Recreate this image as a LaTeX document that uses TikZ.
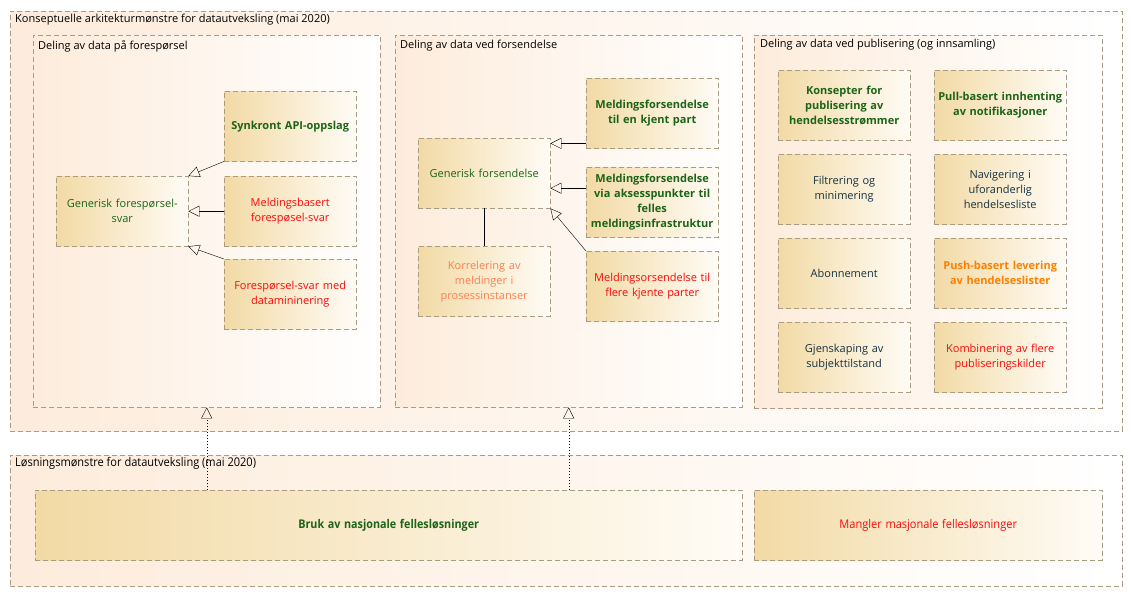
\documentclass[tikz,border=0pt]{standalone}
\usepackage{fontspec}
\setmainfont{Open Sans}
\usepackage{tikz}
\usetikzlibrary{positioning,arrows.meta}
\definecolor{frame}{RGB}{170,156,130}
\definecolor{arealeft}{RGB}{253,236,220}
\definecolor{pattleft}{RGB}{242,218,165}
\definecolor{pattright}{RGB}{255,252,246}
\definecolor{okgreen}{RGB}{28,100,24}
\definecolor{nored}{RGB}{250,10,10}
\definecolor{coral}{RGB}{255,127,80}
\definecolor{pushorange}{RGB}{255,128,0}
\definecolor{slate}{RGB}{22,50,64}
\tikzset{
  area/.style={draw=frame, dash pattern=on 5pt off 3pt, left color=arealeft, right color=white,
               anchor=north west, inner sep=0pt},
  patt/.style={draw=frame, dash pattern=on 5pt off 3pt, left color=pattleft, right color=pattright,
               anchor=north west, minimum width=132pt, minimum height=70pt, text width=130pt,
               align=center, inner sep=0pt, font=\fontsize{11}{15}\selectfont},
  ok/.style={text=okgreen, font=\fontsize{11}{15}\selectfont\bfseries},
  okplain/.style={text=okgreen},
  missing/.style={text=nored},
  ttl/.style={anchor=north west, inner sep=0pt, font=\fontsize{11}{13}\selectfont},
  gen/.style={-{Triangle[open, length=11pt, width=11pt]}, thin, black},
  real/.style={-{Triangle[open, length=11pt, width=11pt]}, thin, black, dash pattern=on 1.5pt off 1.5pt}
}

\begin{document}
\begin{tikzpicture}[x=1pt, y=-1pt]
  \useasboundingbox (0,0) rectangle (1132,597);
  % konseptuelle mønstre
  \node[area, minimum width=1112pt, minimum height=420pt] (konsept) at (10,11) {};
  \node[ttl] at (15,14) {Konseptuelle arkitekturmønstre for datautveksling (mai 2020)};
  \node[area, minimum width=347pt, minimum height=372pt] (foresp) at (33,35) {};
  \node[ttl] at (38,40) {Deling av data på forespørsel};
  \node[area, minimum width=347pt, minimum height=372pt] (forsend) at (395,35) {};
  \node[ttl] at (400,40) {Deling av data ved forsendelse};
  \node[area, minimum width=348pt, minimum height=373pt] (publ) at (754,35) {};
  \node[ttl] at (760,39) {Deling av data ved publisering (og innsamling)};

  % forespørsel
  \node[patt, ok] (synk) at (224,91) {Synkront API-oppslag};
  \node[patt, okplain] (genfs) at (56,176) {Generisk forespørsel-\\svar};
  \node[patt, missing] (meldfs) at (224,176) {Meldingsbasert\\forespøsel-svar};
  \node[patt, missing] (datamin) at (224,259) {Forespørsel-svar med\\datamininering};
  \draw[gen] (synk.south west) -- (genfs.north east);
  \draw[gen] (meldfs.west) -- (genfs.east);
  \draw[gen] (datamin.north west) -- (genfs.south east);

  % forsendelse
  \node[patt, okplain] (genfo) at (418,138) {Generisk forsendelse};
  \node[patt, ok] (kjent) at (586,78) {Meldingsforsendelse\\til en kjent part};
  \node[patt, ok] (aksess) at (586,167) {Meldingsforsendelse\\via aksesspunkter til\\felles\\meldingsinfrastruktur};
  \node[patt, missing] (flere) at (586,251) {Meldingsorsendelse til\\flere kjente parter};
  \node[patt, text=coral] (korr) at (418,246) {Korrelering av\\meldinger i\\prosessinstanser};
  \draw[gen] ([yshift=5pt]kjent.south west) -- ([yshift=5pt]kjent.south west -| genfo.east);
  \draw[gen] ([yshift=14pt]aksess.west) -- ([yshift=14pt]aksess.west -| genfo.east);
  \draw[gen] (flere.north west) -- (genfo.south east);
  \draw (genfo) -- (korr);

  % publisering
  \node[patt, ok] (konsp) at (778,70) {Konsepter for\\publisering av\\hendelsesstrømmer};
  \node[patt, ok] (pull) at (934,70) {Pull-basert innhenting\\av notifikasjoner};
  \node[patt, text=slate] (filtr) at (778,154) {Filtrering og\\minimering};
  \node[patt, text=slate] (navig) at (934,154) {Navigering i\\uforanderlig\\hendelsesliste};
  \node[patt, text=slate] (abon) at (778,238) {Abonnement};
  \node[patt, ok, text=pushorange] (push) at (934,238) {Push-basert levering\\av hendelseslister};
  \node[patt, text=slate] (gjensk) at (778,322) {Gjenskaping av\\subjekttilstand};
  \node[patt, missing] (komb) at (934,322) {Kombinering av flere\\publiseringskilder};

  % løsningsmønstre
  \node[area, minimum width=1112pt, minimum height=131pt] (losning) at (10,455) {};
  \node[ttl, font=\fontsize{12}{14}\selectfont] at (15,457) {\scalebox{0.92}[1]{Løsningsmønstre for datautveksling (mai 2020)}};
  \node[patt, ok, font=\fontsize{12}{14}\selectfont\bfseries, minimum width=707pt, text width=600pt] (bruk) at (35,490) {\scalebox{0.9}[1]{Bruk av nasjonale fellesløsninger}};
  \node[patt, missing, font=\fontsize{12}{14}\selectfont, minimum width=348pt, text width=300pt] (mangl) at (754,490) {\scalebox{0.92}[1]{Mangler masjonale fellesløsninger}};
  \draw[real] (bruk.north -| foresp.south) -- (foresp.south);
  \draw[real] (bruk.north -| forsend.south) -- (forsend.south);
\end{tikzpicture}
\end{document}
